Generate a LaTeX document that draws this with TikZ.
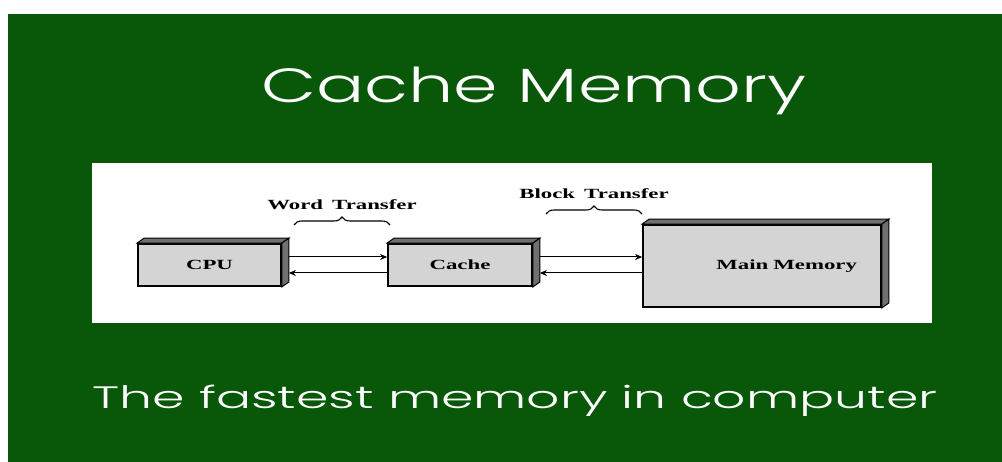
\documentclass[tikz,border=0pt]{standalone}
\usepackage{fontspec}
\usepackage{tikz}
\usetikzlibrary{arrows.meta, positioning, calc, decorations.pathreplacing}
\setmainfont{Poppins}
\newfontfamily\titlefont{Poppins Light}[FakeStretch=1.49]
\newfontfamily\subfont{Poppins Light}[FakeStretch=1.68]
\newfontfamily\diagfont{Liberation Serif}[FakeStretch=1.63, WordSpace=1.6]
\definecolor{slidegreen}{RGB}{9, 88, 9}
\definecolor{boxgray}{RGB}{212, 212, 212}
\definecolor{sidegray}{RGB}{112, 112, 112}

\begin{document}
\begin{tikzpicture}[
    x=1pt, y=-1pt,
    every node/.style={inner sep=0pt},
    headline/.style={
        font=\titlefont\fontsize{48}{50}\selectfont,
        text=white,
        anchor=base
    },
    unitbox/.style={
        rectangle,
        draw=black,
        line width=1.8pt,
        fill=boxgray,
        font=\diagfont\bfseries\fontsize{14}{16}\selectfont
    },
    sideface/.style={
        draw=black,
        line width=1pt,
        fill=sidegray
    },
    arrow/.style={
        line width=1pt,
        -{Stealth[length=7pt, width=6pt]}
    },
    bracelabel/.style={
        font=\diagfont\bfseries\fontsize{14}{16}\selectfont,
        anchor=base
    },
    curly/.style={
        line width=1.1pt,
        decorate,
        decoration={brace, amplitude=8pt}
    }
]

% ==================== BACKGROUND ====================

\useasboundingbox (0,0) rectangle (1002,462);
\fill[slidegreen] (8,14) rectangle (1002,462);
\fill[white] (92,163) rectangle (932,323);

% ==================== TITLES ====================

\node (title) [headline] at (534,103) {Cache Memory};
\node (subtitle) [headline, font=\subfont\fontsize{31}{33}\selectfont] at (515,409) {The fastest memory in computer};

% ==================== UNITS ====================

\node (cpu) [unitbox, minimum width=143, minimum height=42] at (209.5,265) {CPU};
\node (cache) [unitbox, minimum width=144, minimum height=42] at (460,265) {Cache};
\node (main) [unitbox, minimum height=82, text width=190, inner xsep=24, align=right] at (762,266) {Main\hspace{5pt}Memory};

% 3d faces
\foreach \u in {cpu, cache, main} {
    \draw[sideface] (\u.north west) -- ++(7,-5) -- ($(\u.north east)+(7,-5)$) -- (\u.north east) -- cycle;
    \draw[sideface] (\u.north east) -- ++(7,-5) -- ($(\u.south east)+(7,-5)$) -- (\u.south east) -- cycle;
}

% ==================== TRANSFERS ====================

\draw [arrow] ([xshift=7pt, yshift=8pt]cpu.east) -- ([yshift=8pt]cache.west);
\draw [arrow] ([yshift=-8pt]cache.west) -- ([xshift=7pt, yshift=-8pt]cpu.east);
\draw [arrow] ([xshift=7pt, yshift=8pt]cache.east) -- ([yshift=8pt]cache.east -| main.west);
\draw [arrow] ([yshift=-8pt]cache.east -| main.west) -- ([xshift=7pt, yshift=-8pt]cache.east);

\coordinate (word_l) at (294,225);
\coordinate (word_r) at (390,225);
\coordinate (block_l) at (546,214);
\coordinate (block_r) at (642,214);

\draw [curly] (word_l) -- (word_r);
\draw [curly] (block_l) -- (block_r);

\node (word) [bracelabel, above=15pt of $(word_l)!0.5!(word_r)$] {Word Transfer};
\node (block) [bracelabel, above=15pt of $(block_l)!0.5!(block_r)$] {Block Transfer};

\end{tikzpicture}
\end{document}
